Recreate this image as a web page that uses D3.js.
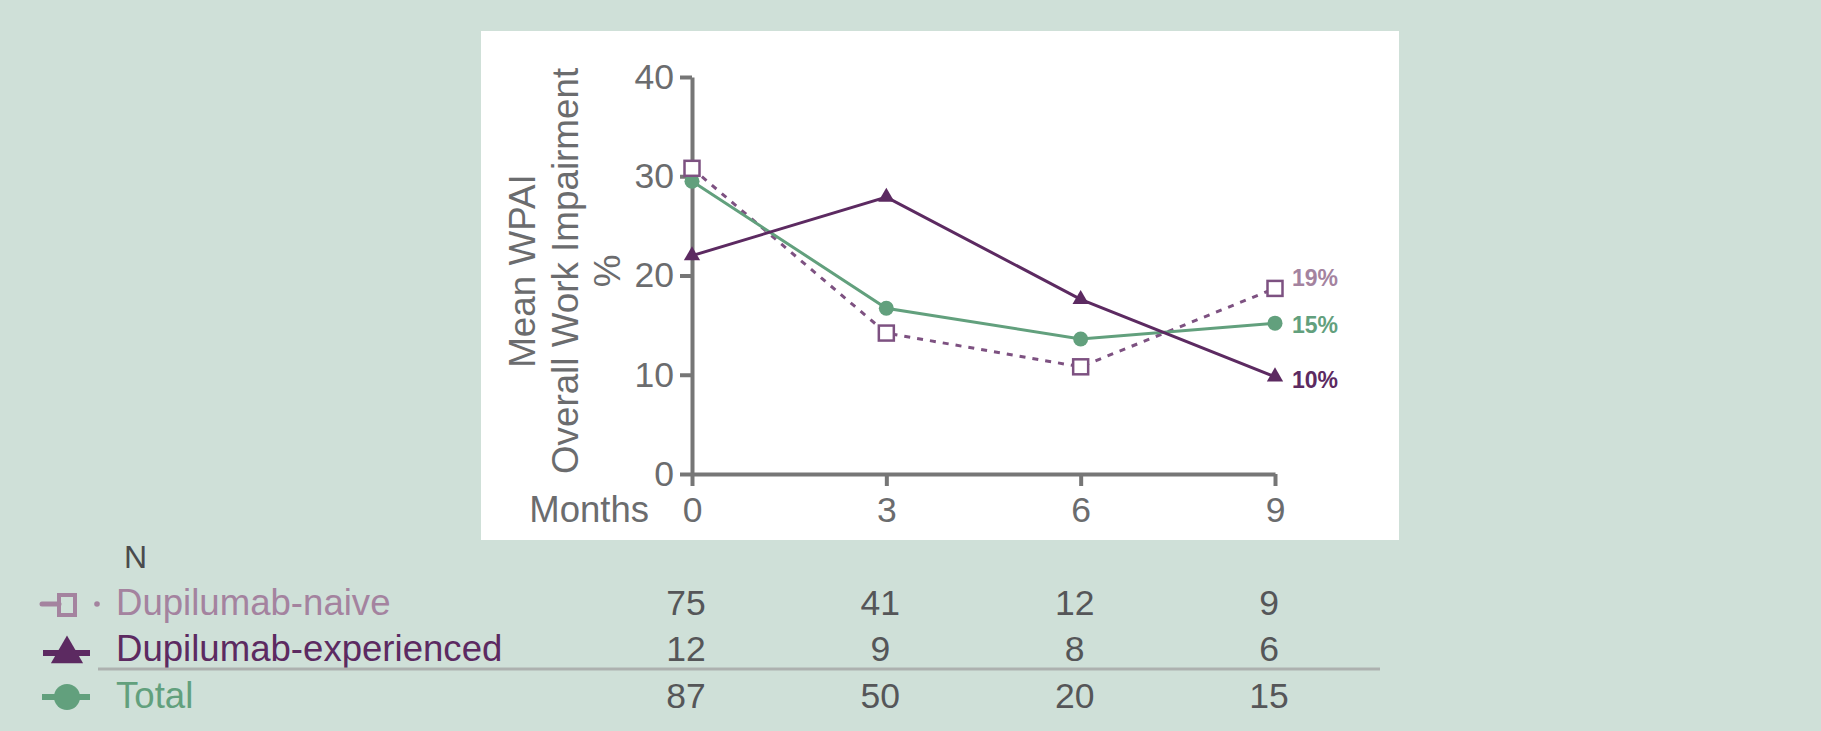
<!DOCTYPE html>
<html><head><meta charset="utf-8">
<script src="https://cdn.jsdelivr.net/npm/d3@7"></script>
<style>
html,body{margin:0;padding:0;background:#cfe0d8;}
svg{display:block;font-family:"Liberation Sans",Arial,Helvetica,sans-serif;}
</style></head><body>
<svg id="chart" width="1821" height="731"></svg>
<script>
// ---- data ----
const months = [0, 3, 6, 9];
const yTicks = [0, 10, 20, 30, 40];
const seriesNames = ["Dupilumab-naive", "Dupilumab-experienced", "Total"];
const naiveValues = [30.8, 14.2, 10.8, 18.7];
const experiencedValues = [22.0, 27.9, 17.6, 9.8];
const totalValues = [29.5, 16.7, 13.6, 15.2];
const endLabels = ["19%", "10%", "15%"];
const naiveN = [75, 41, 12, 9];
const experiencedN = [12, 9, 8, 6];
const totalN = [87, 50, 20, 15];
const yTitleLines = ["Mean WPAI", "Overall Work Impairment", "%"];

// ---- styles ----
const colNaive = "#7d5181", colNaiveLight = "#a4839f";
const colExp = "#5c2a61";
const colTot = "#62a07d";
const axisCol = "#767676", textCol = "#6b6c6e";

const svg = d3.select("#chart");
svg.append("rect").attr("x", 481).attr("y", 31).attr("width", 918).attr("height", 509).attr("fill", "#fff");

const x = d3.scaleLinear().domain([0, 9]).range([692, 1275]);
const y = d3.scaleLinear().domain([0, 40]).range([474, 77]);

// axes
const gy = svg.append("g").attr("transform", "translate(692,0)")
  .call(d3.axisLeft(y).tickValues(yTicks).tickSize(12).tickSizeOuter(0).tickPadding(6));
const gx = svg.append("g").attr("transform", "translate(0,474)")
  .call(d3.axisBottom(x).tickValues(months).tickSize(12).tickSizeOuter(0).tickPadding(11));
[gx, gy].forEach(g => {
  g.select(".domain").attr("stroke", axisCol).attr("stroke-width", 4);
  g.selectAll(".tick line").attr("stroke", axisCol).attr("stroke-width", 4);
  g.selectAll(".tick text").attr("fill", textCol).attr("font-size", 35.5)
    .attr("font-family", '"Liberation Sans",Arial,sans-serif');
});
svg.append("text").attr("x", 649).attr("y", 522).attr("text-anchor", "end")
  .attr("fill", textCol).attr("font-size", 36.5).text("Months");

// y title
const yt = svg.append("text").attr("transform", "translate(535,271) rotate(-90)")
  .attr("text-anchor", "middle").attr("fill", textCol).attr("font-size", 36.8);
yTitleLines.forEach((t, i) => yt.append("tspan").attr("x", 0).attr("y", i * 42.5).text(t));

// lines
const series = [
  {vals: naiveValues, col: colNaive, dash: "6,7", lab: endLabels[0], labCol: colNaiveLight, ldy: -10},
  {vals: totalValues, col: colTot, dash: null, lab: endLabels[2], labCol: colTot, ldy: 2},
  {vals: experiencedValues, col: colExp, dash: null, lab: endLabels[1], labCol: colExp, ldy: 3}
];
const line = d3.line().x((d, i) => x(months[i])).y(d => y(d));
series.forEach(s => {
  svg.append("path").datum(s.vals).attr("d", line).attr("fill", "none")
    .attr("stroke", s.col).attr("stroke-width", 3).attr("stroke-dasharray", s.dash);
});
// markers
svg.selectAll("circle.tot").data(totalValues).join("circle")
  .attr("cx", (d, i) => x(months[i])).attr("cy", d => y(d)).attr("r", 7.5).attr("fill", colTot);
const tri = d3.symbol().type(d3.symbolTriangle).size(115);
svg.selectAll("path.exp").data(experiencedValues).join("path")
  .attr("transform", (d, i) => `translate(${x(months[i])},${y(d)})`).attr("d", tri).attr("fill", colExp);
svg.selectAll("rect.nai").data(naiveValues).join("rect")
  .attr("x", (d, i) => x(months[i]) - 7.5).attr("y", d => y(d) - 7.5)
  .attr("width", 15).attr("height", 15).attr("fill", "#fff").attr("stroke", colNaive).attr("stroke-width", 2.5);
// end labels
series.forEach(s => {
  svg.append("text").attr("x", x(9) + 17).attr("y", y(s.vals[3]) + s.ldy).attr("dy", "0.35em")
    .attr("fill", s.labCol).attr("font-size", 23).attr("font-weight", "bold").text(s.lab);
});

// ---- N table ----
svg.append("text").attr("x", 124).attr("y", 568).attr("fill", "#4a4b4d").attr("font-size", 32).text("N");
const rows = [
  {name: seriesNames[0], n: naiveN, col: colNaiveLight, cy: 602},
  {name: seriesNames[1], n: experiencedN, col: colExp, cy: 648},
  {name: seriesNames[2], n: totalN, col: colTot, cy: 695}
];
rows.forEach(r => {
  svg.append("text").attr("x", 116).attr("y", r.cy + 12.5).attr("fill", r.col).attr("font-size", 36.6).text(r.name);
  r.n.forEach((v, i) => {
    svg.append("text").attr("x", x(months[i]) - 6).attr("y", r.cy + 12.5).attr("text-anchor", "middle")
      .attr("fill", "#555658").attr("font-size", 35.5).text(v);
  });
});
svg.append("line").attr("x1", 98).attr("x2", 1380).attr("y1", 669).attr("y2", 669)
  .attr("stroke", "#adb1af").attr("stroke-width", 3);

// legend icons
const lg = svg.append("g");
// naive
lg.append("line").attr("x1", 42).attr("x2", 59).attr("y1", 604).attr("y2", 604).attr("stroke", colNaiveLight).attr("stroke-width", 5).attr("stroke-linecap", "round");
lg.append("rect").attr("x", 59).attr("y", 595).attr("width", 16).attr("height", 20).attr("fill", "none").attr("stroke", colNaiveLight).attr("stroke-width", 4);
lg.append("circle").attr("cx", 97).attr("cy", 604).attr("r", 2.8).attr("fill", colNaiveLight);
// experienced
lg.append("line").attr("x1", 43).attr("x2", 90).attr("y1", 653).attr("y2", 653).attr("stroke", colExp).attr("stroke-width", 6);
lg.append("path").attr("d", d3.symbol().type(d3.symbolTriangle).size(450)).attr("transform", "translate(67,654)").attr("fill", colExp);
// total
lg.append("line").attr("x1", 42).attr("x2", 90).attr("y1", 697).attr("y2", 697).attr("stroke", colTot).attr("stroke-width", 6);
lg.append("circle").attr("cx", 67).attr("cy", 697).attr("r", 13).attr("fill", colTot);
</script>
</body></html>
